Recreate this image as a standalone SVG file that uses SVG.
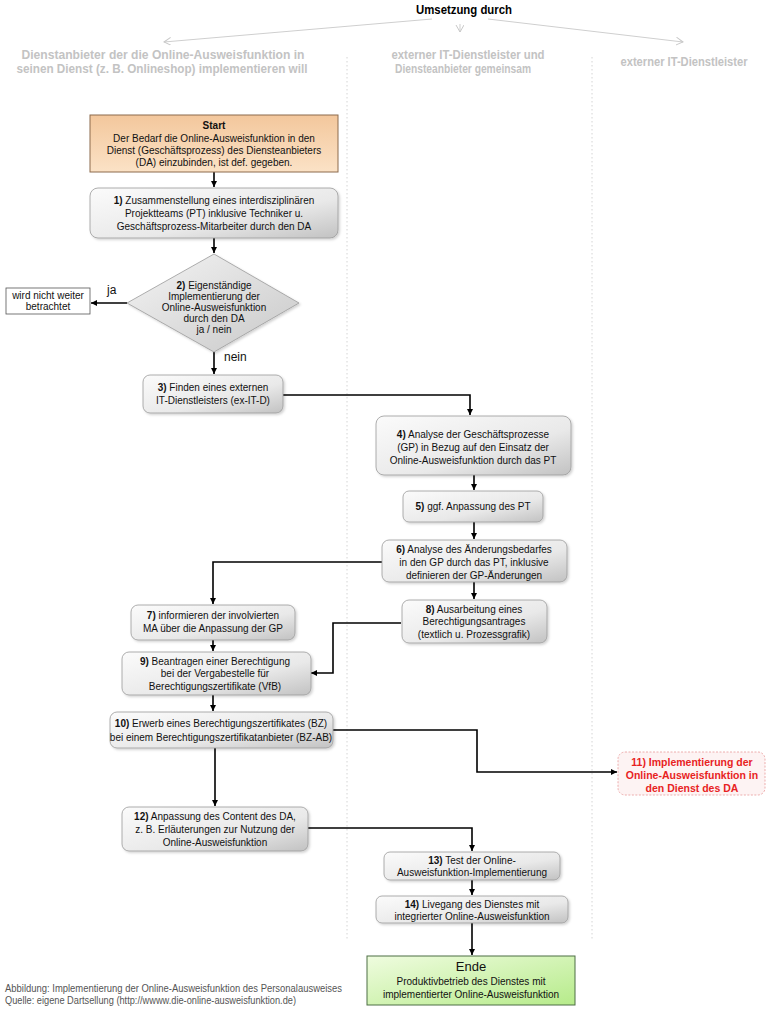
<svg xmlns="http://www.w3.org/2000/svg" width="770" height="1010" viewBox="0 0 770 1010">
<defs>
<linearGradient id="gGray" x1="0" y1="0" x2="1" y2="1">
<stop offset="0" stop-color="#fbfbfb"/><stop offset="0.6" stop-color="#e9e9e9"/><stop offset="1" stop-color="#c2c2c2"/>
</linearGradient>
<linearGradient id="gStart" x1="0" y1="0" x2="0" y2="1">
<stop offset="0" stop-color="#f3c79c"/><stop offset="1" stop-color="#fbe2c6"/>
</linearGradient>
<linearGradient id="gEnd" x1="0" y1="0" x2="1" y2="1">
<stop offset="0" stop-color="#effcdf"/><stop offset="1" stop-color="#b6eb8a"/>
</linearGradient>
<linearGradient id="gDia" x1="0" y1="0" x2="1" y2="1">
<stop offset="0" stop-color="#f4f4f4"/><stop offset="1" stop-color="#c8c8c8"/>
</linearGradient>
<filter id="sh" x="-10%" y="-10%" width="130%" height="140%">
<feDropShadow dx="1.5" dy="1.5" stdDeviation="1.2" flood-color="#000" flood-opacity="0.18"/>
</filter>
<marker id="ar" markerWidth="8" markerHeight="8" refX="6" refY="3" orient="auto" markerUnits="userSpaceOnUse">
<path d="M0,0 L6,3 L0,6 z" fill="#000"/>
</marker>
<marker id="arL" markerWidth="10" markerHeight="10" refX="7" refY="4" orient="auto" markerUnits="userSpaceOnUse">
<path d="M0,0 L7,4 L0,8" fill="none" stroke="#c8c8c8" stroke-width="1"/>
</marker>
</defs>
<style>
text{font-family:"Liberation Sans",Arial,sans-serif;}
.t{font-size:10px;fill:#111;text-anchor:middle;}
.b{font-weight:bold;}
.red{fill:#e8231f;font-weight:bold;font-size:10.5px;}
.hd{font-size:12px;font-weight:bold;fill:#c3c3c3;text-anchor:middle;}
.box{fill:url(#gGray);stroke:#9a9a9a;stroke-width:0.8;filter:url(#sh);}
.con{fill:none;stroke:#000;stroke-width:1.6;marker-end:url(#ar);}
.lane{stroke:#d4d4d4;stroke-width:1;stroke-dasharray:1.5 2.5;}
.hl{fill:none;stroke:#cfcfcf;stroke-width:1;marker-end:url(#arL);}
.cap{font-size:10px;fill:#555;}
</style>

<g id="header">
<text x="464" y="14" font-size="12" font-weight="bold" text-anchor="middle" fill="#000" textLength="96" lengthAdjust="spacingAndGlyphs">Umsetzung durch</text>
<line class="hl" x1="432" y1="19" x2="164" y2="42"/>
<line class="hl" x1="460" y1="24" x2="460" y2="32"/>
<line class="hl" x1="488" y1="19" x2="683" y2="42"/>
<text class="hd" x="163" y="59" textLength="283" lengthAdjust="spacingAndGlyphs">Dienstanbieter der die Online-Ausweisfunktion in</text>
<text class="hd" x="162" y="73" textLength="291" lengthAdjust="spacingAndGlyphs">seinen Dienst (z. B. Onlineshop) implementieren will</text>
<text class="hd" x="468" y="59" textLength="153" lengthAdjust="spacingAndGlyphs">externer IT-Dienstleister und</text>
<text class="hd" x="463" y="73" textLength="136" lengthAdjust="spacingAndGlyphs">Diensteanbieter gemeinsam</text>
<text class="hd" x="684" y="66" textLength="127" lengthAdjust="spacingAndGlyphs">externer IT-Dienstleister</text>
<line class="lane" x1="347" y1="57" x2="347" y2="940"/>
<line class="lane" x1="592" y1="57" x2="592" y2="940"/>
</g>

<g id="connectors">
<path class="con" d="M214,172 V187"/>
<path class="con" d="M214,238 V253"/>
<path class="con" d="M127,303 H91"/>
<path class="con" d="M214,352 V374"/>
<path class="con" d="M283,395 H470 V415"/>
<path class="con" d="M474,475 V490"/>
<path class="con" d="M474,522 V539"/>
<path class="con" d="M382,562 H213 V604"/>
<path class="con" d="M474,582 V599"/>
<path class="con" d="M401,623 H333 V673 H311"/>
<path class="con" d="M213,640 V651"/>
<path class="con" d="M213,695 V711"/>
<path class="con" d="M333,730 H477 V772 H617"/>
<path class="con" d="M215,748 V806"/>
<path class="con" d="M308,828 H472 V851"/>
<path class="con" d="M472,880 V895"/>
<path class="con" d="M472,923 V955"/>
<text x="107" y="294" font-size="12" fill="#111">ja</text>
<text x="224" y="361" font-size="12" fill="#111">nein</text>
</g>

<g id="start">
<rect x="90" y="115" width="248" height="57" fill="url(#gStart)" stroke="#8c6b4c" stroke-width="1"/>
<text class="t b" x="214" y="129" font-size="11">Start</text>
<text class="t" x="214" y="142">Der Bedarf die Online-Ausweisfunktion in den</text>
<text class="t" x="214" y="154">Dienst (Geschäftsprozess) des Diensteanbieters</text>
<text class="t" x="214" y="166">(DA) einzubinden, ist def. gegeben.</text>
</g>

<g id="n1">
<rect class="box" x="90" y="188" width="248" height="50" rx="8"/>
<text class="t" x="214" y="204"><tspan class="b">1)</tspan> Zusammenstellung eines interdisziplinären</text>
<text class="t" x="214" y="217">Projektteams (PT) inklusive Techniker u.</text>
<text class="t" x="214" y="230">Geschäftsprozess-Mitarbeiter durch den DA</text>
</g>

<g id="n2">
<polygon points="214,254 299,303 214,352 127,303" fill="url(#gDia)" stroke="#9a9a9a" stroke-width="0.8" filter="url(#sh)"/>
<text class="t" x="214" y="289" font-size="9"><tspan class="b">2)</tspan> Eigenständige</text>
<text class="t" x="214" y="300">Implementierung der</text>
<text class="t" x="214" y="311" font-size="9">Online-Ausweisfunktion</text>
<text class="t" x="214" y="322">durch den DA</text>
<text class="t" x="214" y="333" font-size="8.5">ja / nein</text>
</g>

<g id="nx">
<rect x="6" y="288" width="84" height="26" fill="#fff" stroke="#555" stroke-width="0.8"/>
<text class="t" x="48" y="299" font-size="9">wird nicht weiter</text>
<text class="t" x="48" y="310" font-size="8.5">betrachtet</text>
</g>

<g id="n3">
<rect class="box" x="143" y="375" width="140" height="38" rx="7"/>
<text class="t" x="213" y="391"><tspan class="b">3)</tspan> Finden eines externen</text>
<text class="t" x="213" y="404">IT-Dienstleisters (ex-IT-D)</text>
</g>

<g id="n4">
<rect class="box" x="376" y="416" width="195" height="59" rx="8"/>
<text class="t" x="473" y="438"><tspan class="b">4)</tspan> Analyse der Geschäftsprozesse</text>
<text class="t" x="473" y="451">(GP) in Bezug auf den Einsatz der</text>
<text class="t" x="473" y="464">Online-Ausweisfunktion durch das PT</text>
</g>

<g id="n5">
<rect class="box" x="403" y="491" width="140" height="31" rx="6"/>
<text class="t" x="473" y="510"><tspan class="b">5)</tspan> ggf. Anpassung des PT</text>
</g>

<g id="n6">
<rect class="box" x="382" y="540" width="185" height="42" rx="7"/>
<text class="t" x="474" y="553"><tspan class="b">6)</tspan> Analyse des Änderungsbedarfes</text>
<text class="t" x="474" y="566">in den GP durch das PT, inklusive</text>
<text class="t" x="474" y="579">definieren der GP-Änderungen</text>
</g>

<g id="n7">
<rect class="box" x="131" y="605" width="164" height="35" rx="7"/>
<text class="t" x="213" y="619"><tspan class="b">7)</tspan> informieren der involvierten</text>
<text class="t" x="213" y="632">MA über die Anpassung  der GP</text>
</g>

<g id="n8">
<rect class="box" x="402" y="600" width="145" height="43" rx="7"/>
<text class="t" x="474" y="613"><tspan class="b">8)</tspan> Ausarbeitung eines</text>
<text class="t" x="474" y="625" font-size="9">Berechtigungsantrages</text>
<text class="t" x="474" y="638">(textlich u. Prozessgrafik)</text>
</g>

<g id="n9">
<rect class="box" x="122" y="652" width="189" height="43" rx="7"/>
<text class="t" x="215" y="665"><tspan class="b">9)</tspan> Beantragen einer Berechtigung</text>
<text class="t" x="215" y="677">bei der Vergabestelle für</text>
<text class="t" x="215" y="690">Berechtigungszertifikate (VfB)</text>
</g>

<g id="n10">
<rect class="box" x="110" y="712" width="223" height="36" rx="7"/>
<text class="t" x="221" y="727"><tspan class="b">10)</tspan> Erwerb eines Berechtigungszertifikates (BZ)</text>
<text class="t" x="221" y="741" font-size="9">bei einem Berechtigungszertifikatanbieter (BZ-AB)</text>
</g>

<g id="n11">
<rect x="618" y="752" width="147" height="43" rx="7" fill="#fdf3f3" stroke="#e89a9a" stroke-width="0.8" stroke-dasharray="2 1.5"/>
<text class="t red" x="692" y="766">11) Implementierung der</text>
<text class="t red" x="692" y="779">Online-Ausweisfunktion in</text>
<text class="t red" x="692" y="792">den Dienst des DA</text>
</g>

<g id="n12">
<rect class="box" x="122" y="807" width="186" height="44" rx="7"/>
<text class="t" x="215" y="820"><tspan class="b">12)</tspan> Anpassung des Content des DA,</text>
<text class="t" x="215" y="833">z. B. Erläuterungen zur Nutzung der</text>
<text class="t" x="215" y="846">Online-Ausweisfunktion</text>
</g>

<g id="n13">
<rect class="box" x="384" y="852" width="176" height="28" rx="6"/>
<text class="t" x="472" y="864"><tspan class="b">13)</tspan> Test der Online-</text>
<text class="t" x="472" y="876">Ausweisfunktion-Implementierung</text>
</g>

<g id="n14">
<rect class="box" x="376" y="896" width="192" height="27" rx="6"/>
<text class="t" x="472" y="908"><tspan class="b">14)</tspan> Livegang des Dienstes mit</text>
<text class="t" x="472" y="920" font-size="9">integrierter Online-Ausweisfunktion</text>
</g>

<g id="ende">
<rect x="367" y="956" width="208" height="49" fill="url(#gEnd)" stroke="#4d6e45" stroke-width="1"/>
<text class="t" x="471" y="971" style="font-size:13px">Ende</text>
<text class="t" x="471" y="985">Produktivbetrieb des Dienstes mit</text>
<text class="t" x="471" y="998">implementierter Online-Ausweisfunktion</text>
</g>

<g id="caption">
<text class="cap" x="5" y="992" textLength="337" lengthAdjust="spacingAndGlyphs">Abbildung: Implementierung der Online-Ausweisfunktion des Personalausweises</text>
<text class="cap" x="5" y="1004" textLength="291" lengthAdjust="spacingAndGlyphs">Quelle: eigene Dartsellung (http://wwww.die-online-ausweisfunktion.de)</text>
</g>
</svg>
